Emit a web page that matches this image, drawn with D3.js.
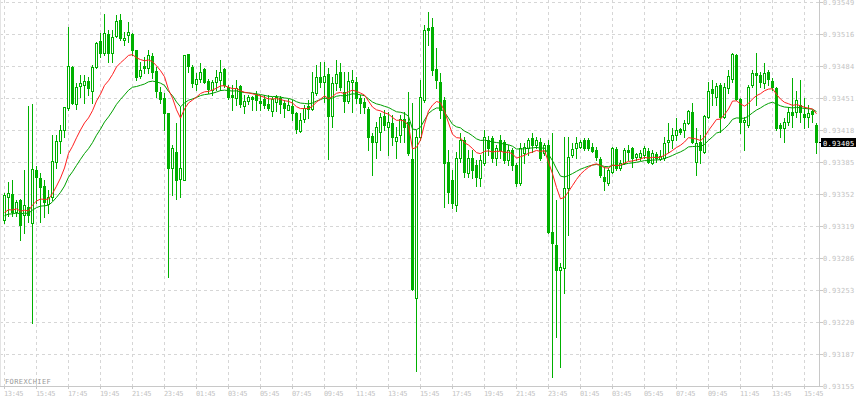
<!DOCTYPE html>
<html><head><meta charset="utf-8">
<script src="https://cdn.jsdelivr.net/npm/d3@7"></script>
<style>body{margin:0;background:#fff}svg{display:block}</style>
</head><body>
<svg id="c" width="856" height="400"></svg>
<script>
// ---- data (15-minute bars) ----
const timeLabels = ["13:45","15:45","17:45","19:45","21:45","23:45","01:45","03:45","05:45","07:45","09:45","11:45","13:45",
  "15:45","17:45","19:45","21:45","23:45","01:45","03:45","05:45","07:45","09:45","11:45","13:45","15:45"];
const priceLabels = ["0.93155","0.93187","0.93220","0.93253","0.93286","0.93319","0.93352","0.93385","0.93418","0.93451","0.93484","0.93516","0.93549"];
const lastPriceLabel = "0.93405";
const brandLabel = "FOREXCHIEF";

const open = [
0.93325,0.93349,0.93352,0.93334,0.93346,0.93330,0.93339,0.93322,0.93377,0.93368,
0.93360,0.93342,0.93349,0.93385,0.93406,0.93418,0.93440,0.93482,0.93444,0.93463,
0.93464,0.93468,0.93458,0.93482,0.93509,0.93497,0.93516,0.93497,0.93514,0.93531,
0.93510,0.93515,0.93516,0.93500,0.93473,0.93483,0.93481,0.93494,0.93478,0.93457,
0.93450,0.93435,0.93379,0.93395,0.93367,0.93366,0.93496,0.93482,0.93465,0.93470,
0.93480,0.93468,0.93459,0.93467,0.93469,0.93480,0.93462,0.93454,0.93450,0.93463,
0.93442,0.93447,0.93452,0.93455,0.93447,0.93449,0.93444,0.93437,0.93446,0.93450,
0.93445,0.93438,0.93442,0.93435,0.93417,0.93429,0.93442,0.93439,0.93456,0.93472,
0.93467,0.93475,0.93432,0.93466,0.93477,0.93457,0.93447,0.93467,0.93467,0.93450,
0.93446,0.93439,0.93411,0.93405,0.93416,0.93432,0.93421,0.93425,0.93406,0.93413,
0.93429,0.93426,0.93388,0.93245,0.93410,0.93448,0.93522,0.93523,0.93480,0.93467,
0.93448,0.93385,0.93366,0.93341,0.93389,0.93407,0.93374,0.93389,0.93382,0.93368,
0.93384,0.93407,0.93409,0.93389,0.93407,0.93405,0.93387,0.93397,0.93382,0.93363,
0.93394,0.93399,0.93409,0.93402,0.93405,0.93394,0.93402,0.93313,0.93300,0.93274,
0.93276,0.93358,0.93392,0.93399,0.93400,0.93407,0.93407,0.93400,0.93397,0.93388,
0.93369,0.93363,0.93375,0.93398,0.93379,0.93384,0.93397,0.93399,0.93390,0.93390,
0.93392,0.93396,0.93384,0.93393,0.93388,0.93389,0.93405,0.93407,0.93413,0.93419,
0.93418,0.93425,0.93436,0.93385,0.93405,0.93395,0.93431,0.93460,0.93452,0.93464,
0.93431,0.93461,0.93470,0.93495,0.93449,0.93426,0.93423,0.93464,0.93476,0.93474,
0.93466,0.93477,0.93468,0.93461,0.93423,0.93420,0.93426,0.93436,0.93436,0.93443,
0.93434,0.93431,0.93437,0.93423];
const high = [
0.93353,0.93364,0.93366,0.93346,0.93347,0.93377,0.93442,0.93444,0.93381,0.93374,
0.93366,0.93356,0.93413,0.93413,0.93423,0.93441,0.93523,0.93483,0.93466,0.93474,
0.93474,0.93472,0.93484,0.93508,0.93517,0.93537,0.93520,0.93520,0.93536,0.93537,
0.93518,0.93528,0.93517,0.93500,0.93487,0.93493,0.93500,0.93497,0.93482,0.93462,
0.93456,0.93435,0.93402,0.93425,0.93441,0.93495,0.93496,0.93484,0.93476,0.93486,
0.93481,0.93470,0.93469,0.93479,0.93489,0.93481,0.93464,0.93464,0.93469,0.93464,
0.93454,0.93454,0.93453,0.93458,0.93454,0.93454,0.93454,0.93452,0.93454,0.93453,
0.93448,0.93449,0.93448,0.93436,0.93435,0.93443,0.93448,0.93477,0.93484,0.93487,
0.93487,0.93481,0.93472,0.93489,0.93486,0.93477,0.93477,0.93479,0.93472,0.93454,
0.93450,0.93441,0.93415,0.93426,0.93435,0.93438,0.93436,0.93433,0.93421,0.93433,
0.93436,0.93457,0.93445,0.93418,0.93469,0.93525,0.93539,0.93533,0.93502,0.93476,
0.93452,0.93397,0.93377,0.93395,0.93415,0.93410,0.93397,0.93397,0.93387,0.93392,
0.93418,0.93411,0.93411,0.93402,0.93413,0.93407,0.93402,0.93399,0.93384,0.93404,
0.93404,0.93409,0.93415,0.93410,0.93409,0.93404,0.93407,0.93415,0.93346,0.93281,
0.93410,0.93410,0.93404,0.93410,0.93407,0.93409,0.93409,0.93404,0.93400,0.93390,
0.93380,0.93379,0.93400,0.93400,0.93387,0.93399,0.93402,0.93400,0.93394,0.93397,
0.93401,0.93399,0.93397,0.93395,0.93397,0.93410,0.93425,0.93420,0.93430,0.93420,
0.93428,0.93438,0.93445,0.93420,0.93413,0.93433,0.93467,0.93469,0.93466,0.93466,
0.93466,0.93479,0.93497,0.93496,0.93450,0.93431,0.93464,0.93479,0.93497,0.93477,
0.93486,0.93479,0.93471,0.93462,0.93425,0.93430,0.93441,0.93471,0.93458,0.93469,
0.93450,0.93443,0.93438,0.93425];
const low = [
0.93322,0.93329,0.93329,0.93329,0.93305,0.93312,0.93323,0.93220,0.93343,0.93323,
0.93328,0.93332,0.93346,0.93379,0.93394,0.93410,0.93438,0.93444,0.93439,0.93452,
0.93445,0.93454,0.93445,0.93481,0.93493,0.93495,0.93487,0.93487,0.93513,0.93510,
0.93505,0.93508,0.93495,0.93469,0.93471,0.93476,0.93476,0.93471,0.93452,0.93445,
0.93418,0.93267,0.93351,0.93347,0.93349,0.93366,0.93477,0.93462,0.93459,0.93467,
0.93466,0.93456,0.93454,0.93459,0.93459,0.93462,0.93449,0.93438,0.93443,0.93441,
0.93435,0.93444,0.93438,0.93438,0.93438,0.93440,0.93438,0.93432,0.93437,0.93435,
0.93431,0.93438,0.93428,0.93415,0.93416,0.93426,0.93430,0.93438,0.93454,0.93462,
0.93446,0.93388,0.93421,0.93459,0.93459,0.93436,0.93445,0.93436,0.93445,0.93435,
0.93435,0.93397,0.93371,0.93389,0.93397,0.93418,0.93392,0.93402,0.93389,0.93405,
0.93405,0.93392,0.93253,0.93170,0.93407,0.93446,0.93505,0.93474,0.93461,0.93430,
0.93339,0.93343,0.93338,0.93335,0.93385,0.93369,0.93369,0.93368,0.93360,0.93360,
0.93382,0.93392,0.93385,0.93382,0.93389,0.93384,0.93382,0.93377,0.93360,0.93361,
0.93384,0.93392,0.93395,0.93399,0.93387,0.93392,0.93312,0.93164,0.93205,0.93175,
0.93250,0.93310,0.93390,0.93389,0.93399,0.93397,0.93397,0.93395,0.93387,0.93369,
0.93356,0.93361,0.93374,0.93377,0.93377,0.93383,0.93387,0.93380,0.93387,0.93387,
0.93389,0.93384,0.93383,0.93385,0.93387,0.93387,0.93395,0.93399,0.93407,0.93414,
0.93410,0.93424,0.93404,0.93371,0.93384,0.93394,0.93430,0.93443,0.93443,0.93416,
0.93430,0.93456,0.93467,0.93448,0.93415,0.93397,0.93421,0.93462,0.93443,0.93462,
0.93461,0.93464,0.93459,0.93418,0.93410,0.93405,0.93423,0.93421,0.93431,0.93426,
0.93420,0.93421,0.93426,0.93394];
const close = [
0.93351,0.93353,0.93334,0.93344,0.93320,0.93341,0.93330,0.93378,0.93369,0.93359,
0.93344,0.93349,0.93386,0.93406,0.93418,0.93441,0.93483,0.93445,0.93462,0.93466,
0.93468,0.93461,0.93482,0.93507,0.93497,0.93517,0.93497,0.93513,0.93529,0.93512,
0.93512,0.93518,0.93500,0.93472,0.93479,0.93481,0.93495,0.93477,0.93458,0.93449,
0.93435,0.93379,0.93399,0.93366,0.93379,0.93495,0.93483,0.93466,0.93470,0.93477,
0.93467,0.93460,0.93467,0.93472,0.93477,0.93464,0.93452,0.93452,0.93461,0.93444,
0.93447,0.93452,0.93449,0.93448,0.93445,0.93443,0.93440,0.93449,0.93452,0.93444,
0.93440,0.93443,0.93435,0.93419,0.93428,0.93440,0.93439,0.93457,0.93472,0.93467,
0.93473,0.93432,0.93466,0.93475,0.93462,0.93447,0.93468,0.93469,0.93450,0.93445,
0.93441,0.93410,0.93405,0.93421,0.93431,0.93423,0.93426,0.93410,0.93410,0.93429,
0.93421,0.93394,0.93255,0.93410,0.93452,0.93520,0.93520,0.93479,0.93469,0.93438,
0.93384,0.93354,0.93343,0.93389,0.93407,0.93375,0.93389,0.93377,0.93369,0.93387,
0.93410,0.93399,0.93389,0.93399,0.93397,0.93387,0.93397,0.93382,0.93363,0.93399,
0.93400,0.93407,0.93402,0.93407,0.93389,0.93402,0.93313,0.93302,0.93274,0.93277,
0.93358,0.93390,0.93398,0.93404,0.93405,0.93399,0.93399,0.93396,0.93390,0.93371,
0.93365,0.93377,0.93399,0.93379,0.93384,0.93397,0.93395,0.93389,0.93393,0.93394,
0.93399,0.93385,0.93394,0.93389,0.93391,0.93404,0.93407,0.93413,0.93418,0.93416,
0.93425,0.93437,0.93405,0.93404,0.93397,0.93432,0.93458,0.93456,0.93463,0.93431,
0.93462,0.93473,0.93496,0.93449,0.93426,0.93428,0.93462,0.93476,0.93474,0.93467,
0.93476,0.93470,0.93462,0.93420,0.93420,0.93426,0.93436,0.93433,0.93448,0.93436,
0.93431,0.93435,0.93434,0.93405];

// moving-average settings (exponential), values at the left edge
const maFastPeriod = 13, maSlowPeriod = 26;
const maFastStart = 0.93330, maSlowStart = 0.93328;

// ---- layout ----
const plotRight = 819, plotBottom = 386, plotTop = 2;
const svg = d3.select("#c");
const n = close.length;
const x = d3.scaleLinear().domain([0, n - 1]).range([4, 4 + 4 * (n - 1)]);
const y = d3.scaleLinear().domain([+priceLabels[0], +priceLabels[priceLabels.length - 1]]).range([plotBottom, plotTop]);
const tickVals = priceLabels.map((d, k) => y.invert(plotBottom - k * (plotBottom - plotTop) / (priceLabels.length - 1)));

const gridCol = "#d6d6d6", axisCol = "#c8c8c8", textCol = "#c3c3c3";
const candleCol = "#00b000";

// grid
const g = svg.append("g");
g.selectAll("line.h").data(tickVals.slice(1)).join("line")
  .attr("x1", 0).attr("x2", plotRight).attr("y1", d => Math.round(y(d)) + 0.5).attr("y2", d => Math.round(y(d)) + 0.5)
  .attr("stroke", gridCol).attr("stroke-dasharray", "3,3");
g.selectAll("line.v").data(timeLabels).join("line")
  .attr("x1", (d, k) => x(k * 8) + 0.5).attr("x2", (d, k) => x(k * 8) + 0.5)
  .attr("y1", 0).attr("y2", plotBottom)
  .attr("stroke", gridCol).attr("stroke-dasharray", "3,3");

// axes
svg.append("line").attr("x1", plotRight + 0.5).attr("x2", plotRight + 0.5).attr("y1", 0).attr("y2", plotBottom + 1).attr("stroke", axisCol);
svg.append("line").attr("x1", 0).attr("x2", plotRight + 1).attr("y1", plotBottom + 0.5).attr("y2", plotBottom + 0.5).attr("stroke", axisCol);
svg.append("line").attr("x1", 0.5).attr("x2", 0.5).attr("y1", 0).attr("y2", plotBottom).attr("stroke", "#e4e4e4");

svg.selectAll("line.rt").data(tickVals).join("line")
  .attr("x1", plotRight).attr("x2", plotRight + 4).attr("y1", d => Math.round(y(d)) + 0.5).attr("y2", d => Math.round(y(d)) + 0.5)
  .attr("stroke", axisCol);
svg.selectAll("text.rt").data(tickVals).join("text")
  .attr("x", plotRight + 4).attr("y", d => Math.round(y(d)) + 3)
  .attr("font-family", "DejaVu Sans Mono").attr("font-size", 7).attr("letter-spacing", 0.3)
  .attr("fill", textCol).text((d, k) => priceLabels[k]);

svg.selectAll("line.bt").data(timeLabels).join("line")
  .attr("x1", (d, k) => x(k * 8) + 0.5).attr("x2", (d, k) => x(k * 8) + 0.5)
  .attr("y1", plotBottom).attr("y2", plotBottom + 3).attr("stroke", axisCol);
svg.selectAll("text.bt").data(timeLabels).join("text")
  .attr("x", (d, k) => x(k * 8)).attr("y", 396)
  .attr("font-family", "DejaVu Sans Mono").attr("font-size", 7).attr("letter-spacing", -0.4)
  .attr("fill", textCol).text(d => d);

svg.append("text").attr("x", 5).attr("y", 384)
  .attr("font-family", "DejaVu Sans Mono").attr("font-size", 7).attr("letter-spacing", 0.4)
  .attr("fill", "#9a9a9a").text(brandLabel);

// candles
const cg = svg.append("g");
for (let i = 0; i < n; i++) {
  const cx = Math.round(x(i));
  cg.append("line").attr("x1", cx + 0.5).attr("x2", cx + 0.5)
    .attr("y1", Math.round(y(high[i]))).attr("y2", Math.round(y(low[i])) + 1)
    .attr("stroke", candleCol);
  const top = Math.round(y(Math.max(open[i], close[i])));
  const bot = Math.round(y(Math.min(open[i], close[i])));
  if (close[i] < open[i]) {
    cg.append("rect").attr("x", cx - 1).attr("y", top).attr("width", 3).attr("height", Math.max(1, bot - top + 1))
      .attr("fill", candleCol);
  } else {
    cg.append("rect").attr("x", cx - 0.5).attr("y", top + 0.5).attr("width", 2).attr("height", Math.max(0, bot - top))
      .attr("fill", "#fff").attr("stroke", candleCol);
  }
}

// moving averages
function ema(values, period, start) {
  const a = 2 / (period + 1); let m = start;
  return values.map(v => (m = m + a * (v - m)));
}
const slow = ema(close, maSlowPeriod, maSlowStart);
const fast = ema(close, maFastPeriod, maFastStart);
const line = d3.line().x((d, i) => x(i) + 0.5).y(d => y(d));
svg.append("path").attr("d", line(slow)).attr("fill", "none").attr("stroke", "#00a000").attr("stroke-width", 1);
svg.append("path").attr("d", line(fast)).attr("fill", "none").attr("stroke", "#ff2020").attr("stroke-width", 1);

// current price box
const yl = Math.round(y(close[n - 1]));
svg.append("line").attr("x1", plotRight).attr("x2", plotRight + 4).attr("y1", yl + 0.5).attr("y2", yl + 0.5).attr("stroke", "#000");
svg.append("rect").attr("x", plotRight + 2).attr("y", yl - 4).attr("width", 35).attr("height", 9).attr("fill", "#000");
svg.append("text").attr("x", plotRight + 4).attr("y", yl + 3.5)
  .attr("font-family", "DejaVu Sans Mono").attr("font-size", 7).attr("letter-spacing", 0.3)
  .attr("fill", "#fff").text(lastPriceLabel);
</script>
</body></html>
